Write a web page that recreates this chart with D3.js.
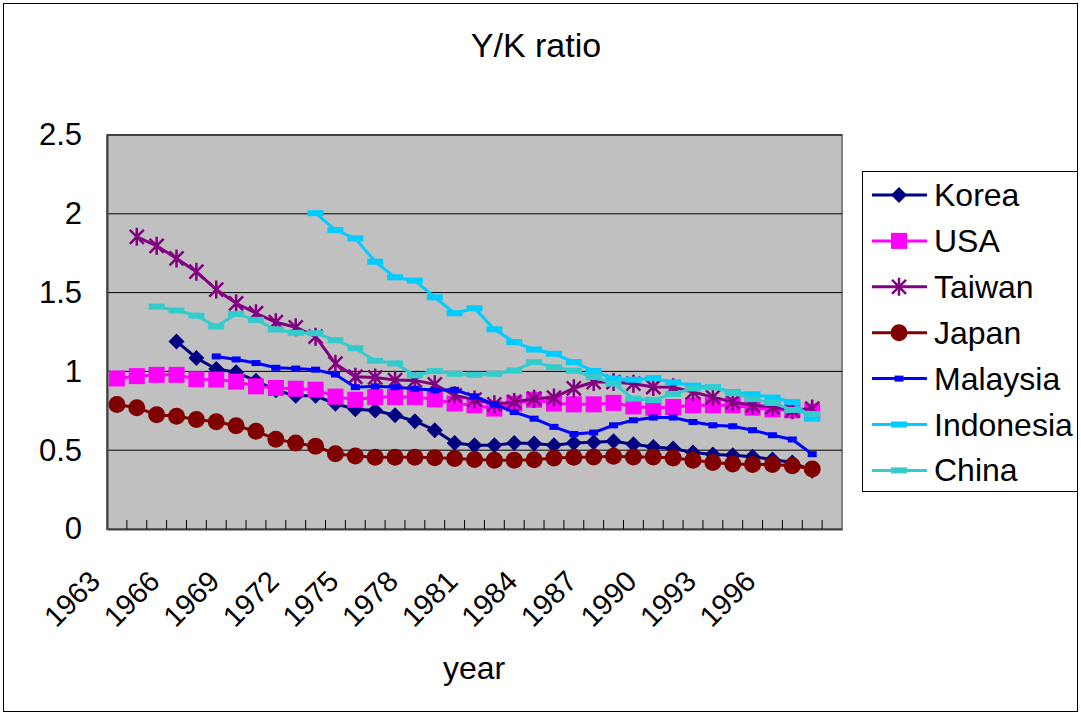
<!DOCTYPE html>
<html>
<head>
<meta charset="utf-8">
<script src="https://cdn.jsdelivr.net/npm/d3@7"></script>
<style>
  body { margin: 0; background: #fff; }
  text { font-family: "Liberation Sans", Arial, sans-serif; fill: #000; }
</style>
</head>
<body>
<div id="chart"></div>
<script>
// Datos (1963-1999; la ultima categoria queda vacia)
const years = d3.range(1963, 2000).map(String);
const tickLabels = ['1963', '1966', '1969', '1972', '1975', '1978', '1981', '1984', '1987', '1990', '1993', '1996'];
const yTicks = [0, 0.5, 1, 1.5, 2, 2.5];

const korea = [null, null, null, 1.19, 1.085, 1.015, 0.995, 0.94, 0.88, 0.845, 0.845, 0.795, 0.76, 0.752, 0.722, 0.684, 0.627, 0.546, 0.532, 0.532, 0.546, 0.542, 0.532, 0.546, 0.551, 0.557, 0.538, 0.521, 0.511, 0.485, 0.473, 0.468, 0.458, 0.441, 0.422, 0.37];
const usa = [0.955, 0.97, 0.978, 0.978, 0.95, 0.948, 0.935, 0.905, 0.895, 0.89, 0.884, 0.84, 0.82, 0.837, 0.837, 0.837, 0.823, 0.796, 0.785, 0.764, 0.796, 0.82, 0.796, 0.791, 0.791, 0.8, 0.778, 0.77, 0.774, 0.785, 0.785, 0.785, 0.77, 0.759, 0.753, 0.745];
const taiwan = [null, 1.854, 1.797, 1.717, 1.633, 1.519, 1.432, 1.369, 1.312, 1.28, 1.22, 1.049, 0.966, 0.962, 0.945, 0.943, 0.918, 0.848, 0.821, 0.791, 0.806, 0.827, 0.834, 0.893, 0.932, 0.932, 0.922, 0.901, 0.9, 0.869, 0.837, 0.806, 0.785, 0.774, 0.753, 0.764];
const japan = [0.79, 0.77, 0.725, 0.715, 0.695, 0.68, 0.655, 0.62, 0.57, 0.545, 0.525, 0.478, 0.463, 0.455, 0.455, 0.455, 0.452, 0.447, 0.441, 0.437, 0.437, 0.44, 0.45, 0.455, 0.457, 0.462, 0.457, 0.457, 0.451, 0.437, 0.422, 0.413, 0.41, 0.41, 0.401, 0.38];
const malaysia = [null, null, null, null, null, 1.095, 1.076, 1.053, 1.023, 1.018, 1.011, 0.98, 0.9, 0.905, 0.9, 0.89, 0.88, 0.883, 0.842, 0.791, 0.742, 0.7, 0.648, 0.603, 0.612, 0.658, 0.69, 0.707, 0.707, 0.679, 0.658, 0.652, 0.627, 0.595, 0.568, 0.475];
const indonesia = [null, null, null, null, null, null, null, null, null, null, 2.004, 1.897, 1.844, 1.696, 1.597, 1.576, 1.47, 1.369, 1.401, 1.267, 1.186, 1.139, 1.112, 1.059, 1.002, 0.954, 0.947, 0.957, 0.93, 0.91, 0.9, 0.869, 0.855, 0.834, 0.806, 0.7];
const china = [null, null, 1.411, 1.386, 1.354, 1.285, 1.365, 1.327, 1.266, 1.245, 1.242, 1.198, 1.147, 1.067, 1.051, 0.975, 1.002, 0.985, 0.979, 0.985, 1.006, 1.059, 1.027, 1.004, 0.964, 0.922, 0.827, 0.818, 0.857, 0.892, 0.9, 0.862, 0.824, 0.8, 0.755, 0.73];

const series = [
    { name: 'Korea', values: korea, color: '#000080', marker: 'diamond' },
    { name: 'USA', values: usa, color: '#FF00FF', marker: 'square' },
    { name: 'Taiwan', values: taiwan, color: '#800080', marker: 'star' },
    { name: 'Japan', values: japan, color: '#800000', marker: 'circle' },
    { name: 'Malaysia', values: malaysia, color: '#0000FF', marker: 'small' },
    { name: 'Indonesia', values: indonesia, color: '#00CCFF', marker: 'dash' },
    { name: 'China', values: china, color: '#33CCCC', marker: 'dash' }
];

// Configuraciones
const width = 1081;
const height = 715;
const plot = { left: 107, right: 842, top: 135, bottom: 529 };

const svg = d3.select('#chart').append('svg')
    .attr('width', width)
    .attr('height', height);

// Borde exterior
svg.append('rect')
    .attr('x', 3.5).attr('y', 3.5)
    .attr('width', width - 7).attr('height', height - 7)
    .attr('fill', '#fff')
    .attr('stroke', '#000')
    .attr('stroke-width', 1);

// Escalas
const xScale = d3.scaleBand()
    .domain(years)
    .range([plot.left, plot.right])
    .padding(0);

const yScale = d3.scaleLinear()
    .domain([0, 2.5])
    .range([plot.bottom, plot.top]);

const xPos = i => xScale(years[i]) + xScale.bandwidth() / 2;

// Area del grafico
svg.append('rect')
    .attr('x', plot.left).attr('y', plot.top)
    .attr('width', plot.right - plot.left).attr('height', plot.bottom - plot.top)
    .attr('fill', '#C0C0C0')
    .attr('stroke', '#808080')
    .attr('stroke-width', 2);

// Lineas de cuadricula
svg.append('g')
    .selectAll('line')
    .data(yTicks.filter(d => d > 0))
    .enter().append('line')
    .attr('x1', plot.left).attr('x2', plot.right)
    .attr('y1', d => yScale(d)).attr('y2', d => yScale(d))
    .attr('stroke', '#000')
    .attr('stroke-width', 1);

// Eje Y
const yAxis = svg.append('g')
    .attr('transform', `translate(${plot.left},0)`)
    .call(d3.axisLeft(yScale).tickValues(yTicks).tickSize(0).tickPadding(25).tickFormat(d => String(d)));
yAxis.select('.domain').attr('stroke', '#404040').attr('stroke-width', 2);
yAxis.selectAll('text').style('font-size', '31px').attr('fill', '#000');

// Eje X
const xAxis = svg.append('g')
    .attr('transform', `translate(0,${plot.bottom})`)
    .call(d3.axisBottom(xScale).tickSize(0).tickFormat(''));
xAxis.select('.domain').attr('stroke', '#404040').attr('stroke-width', 2);

// Marcas del eje X (hacia dentro, en los limites de categoria)
svg.append('g')
    .selectAll('line')
    .data(years.slice(1))
    .enter().append('line')
    .attr('x1', d => xScale(d)).attr('x2', d => xScale(d))
    .attr('y1', plot.bottom).attr('y2', plot.bottom - 9)
    .attr('stroke', '#000')
    .attr('stroke-width', 1);

// Etiquetas del eje X rotadas
svg.append('g')
    .selectAll('text')
    .data(tickLabels)
    .enter().append('text')
    .attr('transform', d => `translate(${xScale(d) + xScale.bandwidth() / 2 - 15},583) rotate(-45)`)
    .attr('text-anchor', 'end')
    .style('font-size', '29px')
    .text(d => d);

// Marcadores
function drawMarker(sel, type, color) {
    if (type === 'diamond') {
        sel.append('path').attr('d', 'M0,-8L8,0L0,8L-8,0Z').attr('fill', color);
    } else if (type === 'square') {
        sel.append('rect').attr('x', -8).attr('y', -8).attr('width', 16).attr('height', 16).attr('fill', color);
    } else if (type === 'circle') {
        sel.append('circle').attr('r', 8.5).attr('fill', color);
    } else if (type === 'star') {
        sel.append('path')
            .attr('d', 'M0,-9L0,9M-7,-7L7,7M-7,7L7,-7')
            .attr('stroke', color).attr('stroke-width', 2.5).attr('fill', 'none');
    } else if (type === 'small') {
        sel.append('rect').attr('x', -4.5).attr('y', -3).attr('width', 9).attr('height', 6).attr('fill', color);
    } else if (type === 'dash') {
        sel.append('rect').attr('x', -8).attr('y', -3).attr('width', 16).attr('height', 6).attr('fill', color);
    }
}

// Lineas de las series
const line = d3.line()
    .defined(d => d.v !== null)
    .x(d => xPos(d.i))
    .y(d => yScale(d.v));

series.forEach(s => {
    const pts = s.values.map((v, i) => ({ i: i, v: v }));
    const g = svg.append('g').attr('class', 'series');

    g.append('path')
        .datum(pts)
        .attr('d', line)
        .attr('fill', 'none')
        .attr('stroke', s.color)
        .attr('stroke-width', 3);

    g.selectAll('.mk')
        .data(pts.filter(d => d.v !== null))
        .enter().append('g')
        .attr('class', 'mk')
        .attr('transform', d => `translate(${xPos(d.i)},${yScale(d.v)})`)
        .each(function () { drawMarker(d3.select(this), s.marker, s.color); });
});

// Titulo y nombre del eje
svg.append('text')
    .attr('x', 536).attr('y', 57)
    .attr('text-anchor', 'middle')
    .style('font-size', '34px')
    .text('Y/K ratio');

svg.append('text')
    .attr('x', 474).attr('y', 679)
    .attr('text-anchor', 'middle')
    .style('font-size', '32px')
    .text('year');

// Leyenda
const legend = svg.append('g');
legend.append('rect')
    .attr('x', 862.5).attr('y', 171.5)
    .attr('width', 215).attr('height', 320)
    .attr('fill', '#fff')
    .attr('stroke', '#000')
    .attr('stroke-width', 1);

const item = legend.selectAll('.item')
    .data(series)
    .enter().append('g')
    .attr('class', 'item')
    .attr('transform', (d, i) => `translate(0,${195 + i * 45.9})`);

item.append('line')
    .attr('x1', 872).attr('x2', 927)
    .attr('stroke', d => d.color)
    .attr('stroke-width', 3);

item.append('g')
    .attr('transform', 'translate(899,0)')
    .each(function (d) { drawMarker(d3.select(this), d.marker, d.color); });

item.append('text')
    .attr('x', 934).attr('y', 11)
    .style('font-size', '32px')
    .text(d => d.name);
</script>
</body>
</html>
